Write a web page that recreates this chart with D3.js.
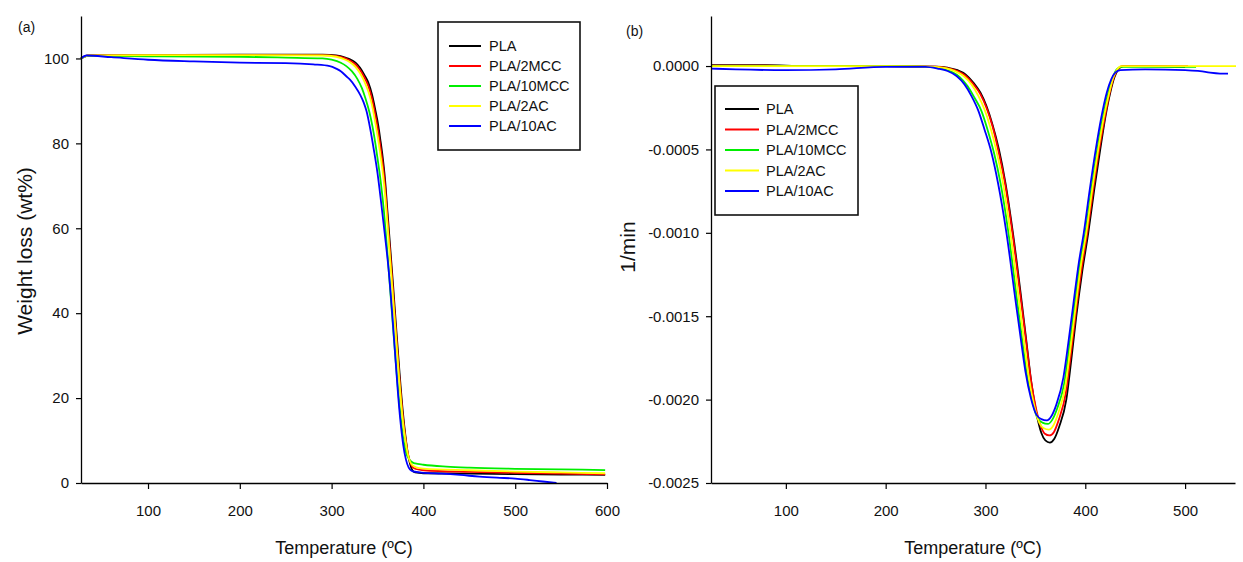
<!DOCTYPE html>
<html>
<head>
<meta charset="utf-8">
<script src="https://cdn.jsdelivr.net/npm/d3@7"></script>
<style>
  html, body { margin: 0; padding: 0; background: #fff; }
  svg { display: block; font-family: "Liberation Sans", Arial, sans-serif; }
</style>
</head>
<body>
<svg id="chart" width="1243" height="562"></svg>
<script>
// Sample names, in legend order
const seriesNames = ["PLA", "PLA/2MCC", "PLA/10MCC", "PLA/2AC", "PLA/10AC"];

// (a) TGA: [temperature °C, weight %]
const tgaPLA = [[27,100.0],[35,100.7],[100,100.8],[200,100.9],[290,100.9],[305,100.7],[315,100.2],[320,99.8],[326,99.0],[331,97.8],[336,96.0],[340,94.3],[344,91.5],[347.5,88.0],[351,84.0],[353,81.0],[355.5,77],[358,72],[361,63.5],[364,55],[367,46.5],[370.5,36],[374,26],[377.5,17],[380.5,11],[383,7],[385.5,4.5],[388,3],[391,2.5],[400,2.3],[450,2.2],[500,2.1],[550,2.0],[598,1.9]];
const tga2MCC = [[27,100.0],[35,100.7],[100,100.7],[200,100.8],[290,100.8],[305,100.6],[315,100.0],[320,99.5],[326,98.6],[331,97.3],[336,95.4],[340,93.5],[344,90.5],[347.5,86.8],[351,82.5],[353,79.5],[355.5,75.5],[358,70.5],[361,62],[364,53.5],[367,45],[370.5,34.5],[374,24.5],[377.5,16],[380.5,10.5],[383,7],[385.5,5],[388,3.8],[392,3.3],[400,3.0],[450,2.6],[500,2.4],[550,2.2],[598,2.05]];
const tga10MCC = [[27,100.0],[35,100.6],[100,100.5],[200,100.4],[250,100.2],[290,100.0],[300,99.7],[310,99.0],[316,98.2],[322,97.0],[328,95.2],[333,93.0],[337,90.5],[341,87.5],[344.5,84.0],[348,79.5],[350,76.5],[353.5,71],[357,64],[360.5,55],[364,45],[367.5,35],[371,25.5],[374.5,17],[378,10.5],[381,7.2],[384,5.8],[387,5.0],[391,4.6],[400,4.3],[425,3.85],[450,3.6],[500,3.35],[550,3.2],[598,3.05]];
const tga2AC = [[27,100.0],[35,100.7],[100,100.8],[200,100.8],[290,100.7],[305,100.4],[315,99.7],[320,99.1],[326,98.0],[331,96.5],[336,94.4],[340,92.2],[344,89.0],[347.5,85.0],[351,80.5],[353,77.5],[355.5,73.5],[358,68.5],[361,60.5],[364,52],[367,43.5],[370.5,33.5],[374,23.5],[377.5,15],[380.5,10],[383,6.8],[385.5,5],[388,4.2],[392,3.7],[400,3.4],[450,3.0],[500,2.7],[550,2.5],[598,2.3]];
const tga10AC = [[27,100.0],[33,100.7],[60,100.3],[100,99.7],[150,99.3],[200,99.0],[250,98.9],[280,98.6],[298,98.2],[305,97.6],[310,97.0],[316,95.8],[320,95.0],[326,93.3],[331,91.5],[335,89.6],[338,87.6],[342,83.5],[346,78.5],[350,73],[354,66],[358,58.5],[362,50.5],[366,40],[369,31],[372,22],[375,14.5],[378,9],[381,5.5],[384,3.6],[387,2.9],[392,2.6],[400,2.4],[420,2.2],[440,1.9],[461,1.5],[480,1.25],[500,1.05],[516,0.7],[530,0.35],[545,0.0]];

// (b) DTG: [temperature °C, 1/min]
const dtgPLA = [[25,0.000005],[80,0.000005],[120,0],[200,0],[250,-0.000003],[262,-0.00001],[272,-0.000025],[280,-0.00005],[288,-0.0001],[295,-0.00016],[301,-0.00024],[307,-0.00035],[313.5,-0.0005],[320,-0.0007],[327.5,-0.001],[336,-0.0014],[341,-0.00165],[346,-0.0019],[351,-0.00208],[356,-0.0022],[360,-0.002245],[364.5,-0.002258],[369,-0.002235],[374,-0.00216],[381,-0.002],[386,-0.00176],[391,-0.0015],[397,-0.00123],[403,-0.001],[409,-0.00074],[415,-0.0005],[420,-0.00031],[425,-0.00016],[429,-0.00007],[433,-0.00002],[438,0],[460,0],[500,-0.000005]];
const dtg2MCC = [[25,0.000003],[80,0.000003],[120,0],[200,0],[250,-0.000004],[262,-0.000012],[272,-0.00003],[280,-0.000058],[288,-0.00011],[295,-0.00017],[301,-0.00025],[307,-0.00036],[313,-0.00051],[319.5,-0.0007],[327,-0.001],[335.5,-0.0014],[340.5,-0.00164],[345.5,-0.00188],[350.5,-0.00205],[355.5,-0.00216],[359.5,-0.002205],[364,-0.002215],[368.5,-0.002195],[373.5,-0.00212],[380.5,-0.00196],[385.5,-0.00173],[390.5,-0.00148],[396.5,-0.00121],[402,-0.001],[408,-0.00074],[414,-0.0005],[419.5,-0.00031],[424.5,-0.00016],[428.5,-0.00007],[432.5,-0.00002],[437,0],[470,0],[503,0]];
const dtg10MCC = [[25,0],[80,0],[150,0],[200,0],[245,-0.000005],[256,-0.000015],[266,-0.000035],[274,-0.000065],[282,-0.00012],[289,-0.00019],[296,-0.00027],[302,-0.00038],[308.5,-0.00052],[315,-0.0007],[323,-0.001],[331.5,-0.0014],[336.5,-0.00163],[341.5,-0.00185],[347,-0.00201],[352,-0.00211],[357,-0.002138],[362.5,-0.002146],[367,-0.00212],[372,-0.00205],[379,-0.0019],[384,-0.00168],[389,-0.00145],[394.5,-0.00119],[400,-0.001],[406,-0.00074],[412,-0.0005],[417.5,-0.00031],[423,-0.00016],[427.5,-0.00007],[431.5,-0.00002],[436,-0.000005],[480,-0.000005],[511,-0.000005]];
const dtg2AC = [[25,0],[80,0],[150,0],[200,0],[250,-0.000005],[260,-0.000013],[270,-0.000032],[278,-0.00006],[286,-0.00011],[293,-0.00018],[299,-0.00026],[305,-0.00037],[311,-0.00051],[317.5,-0.0007],[325,-0.001],[333.5,-0.0014],[338.5,-0.00164],[343.5,-0.00187],[349,-0.00204],[354,-0.00214],[358.5,-0.002172],[363.5,-0.00218],[368,-0.002155],[373,-0.00208],[380,-0.00192],[385,-0.0017],[390,-0.00146],[395.5,-0.0012],[401,-0.001],[407,-0.00074],[413,-0.0005],[418.5,-0.00031],[424,-0.00016],[428,-0.00007],[432,-0.00002],[436,0],[480,0],[551,0]];
const dtg10AC = [[25,-0.000015],[50,-0.00002],[100,-0.000025],[150,-0.00002],[200,-0.000005],[240,-0.000005],[252,-0.000015],[262,-0.00003],[271,-0.00006],[279,-0.00011],[286,-0.00018],[293,-0.00027],[299,-0.00038],[306,-0.00052],[312.5,-0.0007],[321,-0.001],[330,-0.0014],[335,-0.00162],[340,-0.00183],[345.5,-0.00199],[351,-0.00209],[356,-0.002117],[361.5,-0.002125],[366,-0.0021],[371,-0.00203],[378,-0.00187],[383,-0.00166],[388,-0.00143],[393.5,-0.00118],[398.5,-0.001],[404.5,-0.00074],[410.5,-0.0005],[416,-0.00031],[421.5,-0.00016],[426,-0.00008],[430,-0.00004],[435,-0.000025],[460,-0.00002],[500,-0.000025],[515,-0.00003],[525,-0.00004],[535,-0.000045],[543,-0.000045]];

// Axis ticks
const tempTicksA = [100, 200, 300, 400, 500, 600];
const weightTicks = [0, 20, 40, 60, 80, 100];
const tempTicksB = [100, 200, 300, 400, 500];
const rateTicks = [0, -0.0005, -0.0010, -0.0015, -0.0020, -0.0025];

const seriesColors = ["#000000", "#ff0000", "#00ee00", "#ffff00", "#0000ff"];

const svg = d3.select("#chart");
svg.append("rect").attr("width", 1243).attr("height", 562).attr("fill", "#fff");

function drawPanel(opts) {
  const g = svg.append("g");
  const x = d3.scaleLinear().domain(opts.xDomain).range(opts.xRange);
  const y = d3.scaleLinear().domain(opts.yDomain).range(opts.yRange);

  const line = d3.line()
    .x(d => x(d[0]))
    .y(d => y(d[1]))
    .curve(d3.curveMonotoneX);

  opts.series.forEach((s, i) => {
    g.append("path")
      .datum(s)
      .attr("fill", "none")
      .attr("stroke", seriesColors[i])
      .attr("stroke-width", 1.8)
      .attr("stroke-linejoin", "round")
      .attr("d", line);
  });

  const xAxis = g.append("g")
    .attr("transform", `translate(0,${opts.yRange[0]})`)
    .call(d3.axisBottom(x).tickValues(opts.xTicks).tickSize(6).tickPadding(16).tickSizeOuter(0).tickFormat(d3.format("d")));
  const yAxis = g.append("g")
    .attr("transform", `translate(${opts.xRange[0]},0)`)
    .call(d3.axisLeft(y).tickValues(opts.yTicks).tickSize(5).tickPadding(7).tickSizeOuter(0).tickFormat(opts.yFormat));

  [xAxis, yAxis].forEach(a => {
    a.select(".domain").attr("stroke", "#000").attr("stroke-width", 1.3);
    a.selectAll(".tick line").attr("stroke", "#000").attr("stroke-width", 1.2);
    a.selectAll(".tick text").attr("font-size", 15).attr("fill", "#111")
      .attr("font-family", "Liberation Sans, Arial, sans-serif");
  });

  // axis titles
  g.append("text")
    .attr("x", (opts.xRange[0] + opts.xRange[1]) / 2 + opts.xTitleShift)
    .attr("y", 554)
    .attr("text-anchor", "middle")
    .attr("font-size", 18)
    .attr("fill", "#111")
    .text("Temperature (ºC)");
  g.append("text")
    .attr("transform", `translate(${opts.yTitleX},${opts.yTitleY}) rotate(-90)`)
    .attr("text-anchor", "middle")
    .attr("dominant-baseline", "central")
    .attr("font-size", 21)
    .attr("fill", "#111")
    .text(opts.yTitle);

  // panel letter
  g.append("text")
    .attr("x", opts.tagX).attr("y", opts.tagY)
    .attr("font-size", 14)
    .attr("fill", "#111")
    .text(opts.tag);

  // legend
  const lg = opts.legend;
  g.append("rect")
    .attr("x", lg.x).attr("y", lg.y)
    .attr("width", lg.w).attr("height", lg.h)
    .attr("fill", "#fff")
    .attr("stroke", "#111")
    .attr("stroke-width", 1.6);
  seriesNames.forEach((name, i) => {
    const cy = lg.firstY + i * lg.step;
    g.append("line")
      .attr("x1", lg.lineX1).attr("x2", lg.lineX2)
      .attr("y1", cy).attr("y2", cy)
      .attr("stroke", seriesColors[i])
      .attr("stroke-width", 2);
    g.append("text")
      .attr("x", lg.textX).attr("y", cy)
      .attr("dominant-baseline", "central")
      .attr("font-size", 14.5)
      .attr("fill", "#111")
      .text(name);
  });
}

drawPanel({
  xDomain: [27, 600], xRange: [81, 607],
  yDomain: [0, 110], yRange: [483, 16],
  xTicks: tempTicksA, yTicks: weightTicks,
  yFormat: d3.format("d"),
  series: [tgaPLA, tga2MCC, tga10MCC, tga2AC, tga10AC],
  yTitle: "Weight loss (wt%)", yTitleX: 24, yTitleY: 251,
  xTitleShift: 0,
  tag: "(a)", tagX: 18, tagY: 32,
  legend: { x: 438, y: 22, w: 142, h: 128, firstY: 46, step: 20, lineX1: 449, lineX2: 481, textX: 489 }
});

drawPanel({
  xDomain: [25, 550], xRange: [711, 1235],
  yDomain: [-0.0025, 0.0003], yRange: [483, 16],
  xTicks: tempTicksB, yTicks: rateTicks,
  yFormat: d => d.toFixed(4),
  series: [dtgPLA, dtg2MCC, dtg10MCC, dtg2AC, dtg10AC],
  yTitle: "1/min", yTitleX: 627, yTitleY: 247,
  xTitleShift: 0,
  tag: "(b)", tagX: 626, tagY: 36,
  legend: { x: 715, y: 86, w: 143, h: 129, firstY: 109, step: 20.5, lineX1: 725, lineX2: 759, textX: 766 }
});
</script>
</body>
</html>
